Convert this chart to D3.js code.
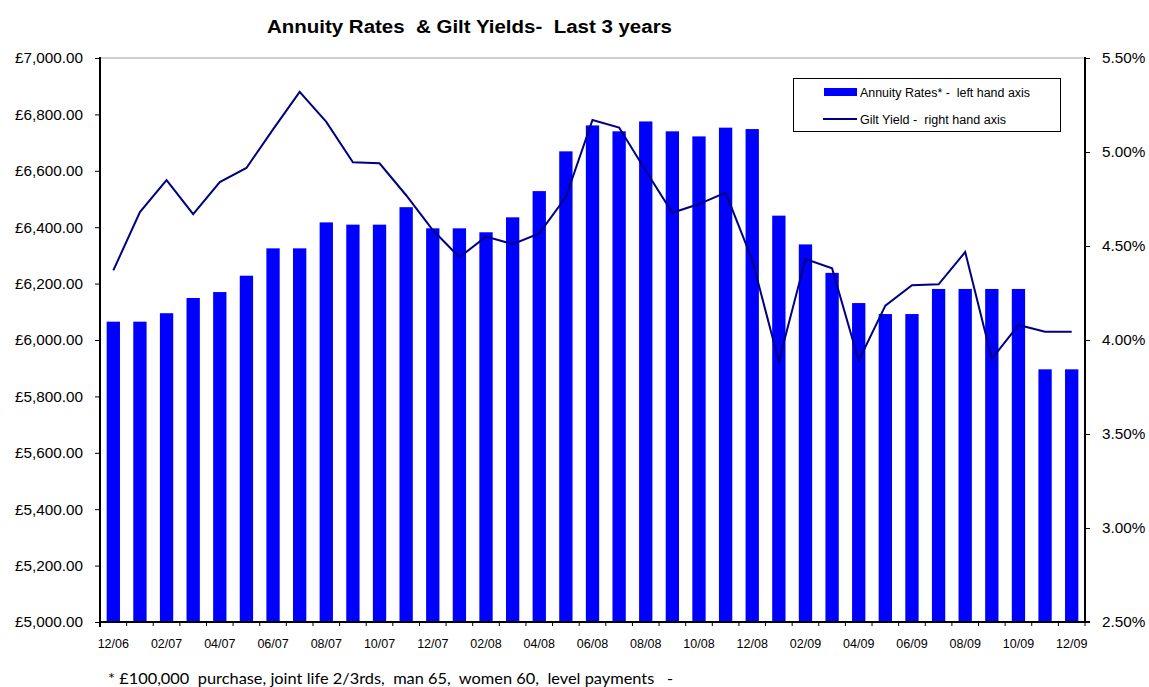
<!DOCTYPE html>
<html><head><meta charset="utf-8">
<script src="https://cdn.jsdelivr.net/npm/d3@7"></script>
<style>body{margin:0;background:#fff}svg{display:block}text.pre{white-space:pre}</style>
</head><body><svg id="c" width="1149" height="687"></svg>
<script>
const categories = ["12/06","01/07","02/07","03/07","04/07","05/07","06/07","07/07","08/07","09/07","10/07","11/07",
"12/07","01/08","02/08","03/08","04/08","05/08","06/08","07/08","08/08","09/08","10/08","11/08",
"12/08","01/09","02/09","03/09","04/09","05/09","06/09","07/09","08/09","09/09","10/09","11/09","12/09"];
const annuityRates = [6065,6065,6095,6149,6170,6228,6325,6325,6417,6409,6409,6471,
6396,6396,6382,6435,6528,6669,6761,6740,6775,6740,6722,6753,
6748,6441,6339,6238,6131,6092,6092,6181,6181,6181,6181,5896,5896];
const giltYields = [4.37,4.68,4.85,4.67,4.84,4.915,5.12,5.32,5.16,4.945,4.94,4.77,
4.585,4.44,4.55,4.51,4.567,4.76,5.17,5.13,4.90,4.677,4.723,4.784,
4.426,3.885,4.431,4.381,3.89,4.183,4.291,4.296,4.468,3.90,4.08,4.044,4.044];
const leftTicks = [5000,5200,5400,5600,5800,6000,6200,6400,6600,6800,7000];
const rightTicks = [2.5,3.0,3.5,4.0,4.5,5.0,5.5];
const xLabels = categories.filter((d,i)=>i%2===0);

const svg = d3.select("#c");
const L=100, R=1085, T=58, B=622;
const x = d3.scaleBand().domain(categories).range([L,R]).paddingInner(0.5).paddingOuter(0.25);
const yL = d3.scaleLinear().domain([5000,7000]).range([B,T]);
const yR = d3.scaleLinear().domain([2.5,5.5]).range([B,T]);
const font = "Arial, 'Liberation Sans', sans-serif";

// top border
svg.append("line").attr("x1",L).attr("x2",R).attr("y1",T).attr("y2",T).attr("stroke","#a0a0a0").attr("stroke-width",1);

// bars
svg.append("g").selectAll("rect").data(annuityRates).join("rect")
  .attr("x",(d,i)=>x(categories[i])).attr("width",x.bandwidth())
  .attr("y",d=>yL(d)).attr("height",d=>B-yL(d)).attr("fill","#0000ff");

// line
const line = d3.line().x((d,i)=>x(categories[i])+x.bandwidth()/2).y(d=>yR(d));
svg.append("path").datum(giltYields).attr("d",line).attr("fill","none")
  .attr("stroke","#000080").attr("stroke-width",2).attr("stroke-linejoin","miter");

// left axis
const fmtL = v => "£" + d3.format(",.2f")(v);
const gL = svg.append("g").attr("transform",`translate(${L},0)`)
  .call(d3.axisLeft(yL).tickValues(leftTicks).tickFormat(fmtL).tickSize(5).tickPadding(12).tickSizeOuter(0));
// right axis
const gR = svg.append("g").attr("transform",`translate(${R},0)`)
  .call(d3.axisRight(yR).tickValues(rightTicks).tickFormat(d=>d3.format(".2f")(d)+"%").tickSize(5).tickPadding(12).tickSizeOuter(0));
// bottom axis
const boundaries = categories.map(c=>x(c)-x.step()*0.25).concat([R]);
const gB = svg.append("g").attr("transform",`translate(0,${B})`);
gB.append("line").attr("x1",L).attr("x2",R+5).attr("stroke","#000").attr("stroke-width",2);
gB.selectAll("line.t").data(boundaries).join("line").attr("class","t")
  .attr("x1",d=>d).attr("x2",d=>d).attr("y1",0).attr("y2",4).attr("stroke","#000");
gB.selectAll("text").data(xLabels).join("text")
  .attr("x",d=>x(d)+x.bandwidth()/2).attr("y",25.5).attr("text-anchor","middle")
  .attr("font-family",font).attr("font-size",12.5).attr("fill","#000").text(d=>d);

[gL,gR].forEach(g=>{
  g.select(".domain").attr("stroke","#000").attr("stroke-width",2);
  g.selectAll(".tick line").attr("stroke","#000");
  g.selectAll(".tick text").attr("font-family",font).attr("font-size",15.3).attr("fill","#000");
});
gL.select(".domain").attr("d",`M0,${B+5}V${T-1}`);
gR.select(".domain").attr("d",`M0,${B+1}V${T-1}`);

// title
svg.append("text").attr("class","pre").attr("x",267).attr("y",33)
  .attr("font-family",font).attr("font-weight","bold").attr("font-size",18)
  .attr("textLength",405).attr("lengthAdjust","spacingAndGlyphs")
  .text("Annuity Rates  & Gilt Yields-  Last 3 years");

// legend
const lg = svg.append("g");
lg.append("rect").attr("x",793.5).attr("y",78.5).attr("width",267).attr("height",53)
  .attr("fill","#fff").attr("stroke","#000").attr("stroke-width",1);
lg.append("rect").attr("x",824).attr("y",88).attr("width",33).attr("height",8).attr("fill","#0000ff");
lg.append("line").attr("x1",823).attr("x2",857).attr("y1",119).attr("y2",119).attr("stroke","#000080").attr("stroke-width",2);
lg.append("text").attr("class","pre").attr("x",860).attr("y",97).attr("font-family",font).attr("font-size",12.5)
  .attr("textLength",170).attr("lengthAdjust","spacingAndGlyphs").text("Annuity Rates* -  left hand axis");
lg.append("text").attr("class","pre").attr("x",860).attr("y",124).attr("font-family",font).attr("font-size",12.5)
  .attr("textLength",146).attr("lengthAdjust","spacingAndGlyphs").text("Gilt Yield -  right hand axis");

// footnote
svg.append("text").attr("class","pre").attr("x",108).attr("y",684).attr("font-family","Lato, 'Open Sans', sans-serif").attr("font-size",16)
  .attr("textLength",565).attr("lengthAdjust","spacingAndGlyphs")
  .text("* £100,000  purchase, joint life 2/3rds,  man 65,  women 60,  level payments   -");
</script></body></html>
